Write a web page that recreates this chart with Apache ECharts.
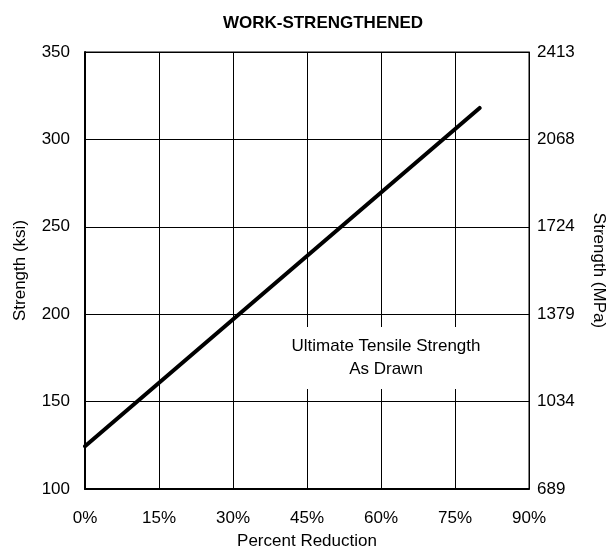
<!DOCTYPE html>
<html>
<head>
<meta charset="utf-8">
<script src="https://cdn.jsdelivr.net/npm/echarts@6/dist/echarts.min.js"></script>
<style>
html,body{margin:0;padding:0;background:#fff;}
#c{width:606px;height:548px;}
</style>
</head>
<body>
<div id="c"></div>
<script>
var titleText = 'WORK-STRENGTHENED';
var reductionPct = [0, 80];
var strengthKsi = [124.5, 318];
var xTicks = ['0%', '15%', '30%', '45%', '60%', '75%', '90%'];
var ksiTicks = [100, 150, 200, 250, 300, 350];
var mpaTicks = ['689', '1034', '1379', '1724', '2068', '2413'];
var annotationLines = ['Ultimate Tensile Strength', 'As Drawn'];

var FONT = '"Liberation Sans", Arial, sans-serif';
var FS = 17;
var chart = echarts.init(document.getElementById('c'), null, {renderer: 'canvas'});

var lineData = reductionPct.map(function (x, i) { return [x, strengthKsi[i]]; });

chart.setOption({
  animation: false,
  backgroundColor: '#fff',
  textStyle: {fontFamily: FONT},
  title: {
    text: titleText,
    left: 318, textAlign: 'center',
    top: 10,
    textStyle: {fontFamily: FONT, fontSize: 17, fontWeight: 'bold', color: '#000'}
  },
  grid: {
    left: 85, right: 77, top: 52, bottom: 59,
    containLabel: false, outerBoundsMode: 'none',
    show: true, borderColor: '#000', borderWidth: 1, backgroundColor: 'transparent'
  },
  xAxis: {
    type: 'value', min: 0, max: 90, interval: 15,
    name: 'Percent Reduction', nameLocation: 'middle', nameGap: 44,
    nameTextStyle: {fontFamily: FONT, fontSize: FS, color: '#000'},
    axisLine: {show: true, lineStyle: {color: '#000', width: 2}},
    axisTick: {show: false},
    axisLabel: {
      margin: 21, fontFamily: FONT, fontSize: FS, color: '#000',
      formatter: function (v) { return xTicks[Math.round(v / 15)]; }
    },
    splitLine: {show: true, lineStyle: {color: '#000', width: 1}}
  },
  yAxis: [{
    type: 'value', min: 100, max: 350, interval: 50, position: 'left',
    name: 'Strength (ksi)', nameLocation: 'middle', nameGap: 56,
    nameTextStyle: {fontFamily: FONT, fontSize: FS, color: '#000'},
    axisLine: {show: true, lineStyle: {color: '#000', width: 2}},
    axisTick: {show: false},
    axisLabel: {
      margin: 15, fontFamily: FONT, fontSize: FS, color: '#000',
      formatter: function (v) { var i = ksiTicks.indexOf(v); return i >= 0 ? String(ksiTicks[i]) : ''; }
    },
    splitLine: {show: true, lineStyle: {color: '#000', width: 1}}
  }, {
    type: 'value', min: 100, max: 350, interval: 50, position: 'right',
    name: 'Strength (MPa)', nameLocation: 'middle', nameGap: 61, nameRotate: -90,
    nameTextStyle: {fontFamily: FONT, fontSize: FS, color: '#000'},
    axisLine: {show: true, lineStyle: {color: '#000', width: 1}},
    axisTick: {show: false},
    axisLabel: {
      margin: 8, fontFamily: FONT, fontSize: FS, color: '#000',
      formatter: function (v) { var i = ksiTicks.indexOf(v); return i >= 0 ? mpaTicks[i] : ''; }
    },
    splitLine: {show: false}
  }],
  series: [{
    type: 'line',
    data: lineData,
    yAxisIndex: 0,
    symbol: 'none',
    lineStyle: {color: '#000', width: 4, cap: 'round'},
    z: 5
  }],
  graphic: [{
    type: 'text',
    x: 386, y: 358,
    z: 100,
    style: {
      text: annotationLines.join('\n'),
      fontFamily: FONT, fontSize: FS, fill: '#000',
      align: 'center', verticalAlign: 'middle', lineHeight: 23,
      backgroundColor: '#fff',
      padding: [8, 24, 8, 24]
    }
  }]
});
</script>
</body>
</html>
